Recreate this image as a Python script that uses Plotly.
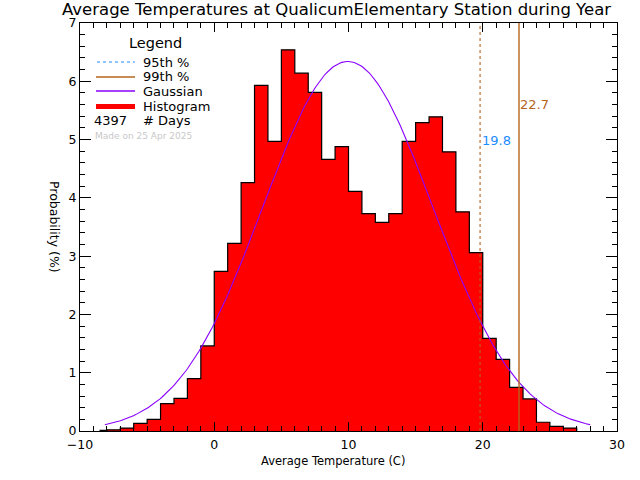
import numpy as np
import plotly.graph_objects as go

# ---- data ----
bin_edges = [-8.5, -8, -7, -6, -5, -4, -3, -2, -1, 0, 1, 2, 3, 4, 5, 6, 7, 8, 9, 10,
             11, 12, 13, 14, 15, 16, 17, 18, 19, 20, 21, 22, 23, 24, 25, 26, 27]
probability = [0.01, 0.02, 0.05, 0.13, 0.20, 0.47, 0.56, 0.90, 1.46, 2.74, 3.22, 4.26,
               5.93, 4.97, 6.54, 6.14, 5.81, 4.66, 4.88, 4.11, 3.73, 3.58, 3.73, 4.97,
               5.29, 5.39, 4.79, 3.76, 3.06, 1.59, 1.23, 0.75, 0.55, 0.15, 0.08, 0.05]
gauss_mean = 9.95
gauss_sigma = 6.33
gauss_peak = 6.34
gauss_start = -8.15
gauss_end = 28.0
p95 = 19.8
p99 = 22.7
n_days = 4397
x_ticks = [-10, 0, 10, 20, 30]
y_ticks = [0, 1, 2, 3, 4, 5, 6, 7]

RED = "#FF0000"
PURPLE = "#8A00FF"
BROWN = "#B5651D"
BLUE = "#1E8CFF"
FONT = "DejaVu Sans"

# plot area in window pixels
L, R, T, B = 80, 617, 23, 431
W, H = 640, 480


def px(x):
    return (x - L) / (R - L)


def py(y):
    return (B - y) / (B - T)


fig = go.Figure()

# histogram as a filled step outline
xs = [bin_edges[0]] + bin_edges + [bin_edges[-1]]
ys = [0] + probability + [probability[-1], 0]
fig.add_trace(go.Scatter(x=xs, y=ys, mode="lines", line=dict(shape="hv", color="black", width=1.2),
                         fill="tozeroy", fillcolor=RED, hoverinfo="skip"))

# gaussian
gx = np.linspace(gauss_start, gauss_end, 300)
gy = gauss_peak * np.exp(-((gx - gauss_mean) ** 2) / (2 * gauss_sigma ** 2))
fig.add_trace(go.Scatter(x=gx, y=gy, mode="lines", line=dict(color=PURPLE, width=1.1)))

# percentile lines
fig.add_trace(go.Scatter(x=[p95, p95], y=[0, y_ticks[-1]], mode="lines",
                         line=dict(color=BROWN, width=1.1, dash="dot")))
fig.add_trace(go.Scatter(x=[p99, p99], y=[0, y_ticks[-1]], mode="lines",
                         line=dict(color=BROWN, width=1.4)))

annotations = [
    dict(text="Average Temperatures at QualicumElementary Station during Year",
         xref="paper", yref="paper", x=px(336), y=py(10), xanchor="center", yanchor="middle",
         showarrow=False, font=dict(size=16.5, color="black", family=FONT)),
    dict(text="Average Temperature (C)", xref="paper", yref="paper", x=px(333), y=py(461),
         xanchor="center", yanchor="middle", showarrow=False,
         font=dict(size=11.5, color="black", family=FONT)),
    dict(text="Probability (%)", xref="paper", yref="paper", x=px(55), y=py(227),
         xanchor="center", yanchor="middle", showarrow=False, textangle=90,
         font=dict(size=12.5, color="black", family=FONT)),
    dict(text=f"{p95}", x=p95, y=4.98, xref="x", yref="y", xanchor="left", yanchor="middle",
         showarrow=False, xshift=0, font=dict(size=13, color=BLUE, family=FONT)),
    dict(text=f"{p99}", x=p99, y=5.6, xref="x", yref="y", xanchor="left", yanchor="middle",
         showarrow=False, xshift=-1, font=dict(size=13, color=BROWN, family=FONT)),
    # legend
    dict(text="Legend", xref="paper", yref="paper", x=px(155), y=py(43), xanchor="center",
         yanchor="middle", showarrow=False, font=dict(size=14.5, color="black", family=FONT)),
    dict(text="95th %", xref="paper", yref="paper", x=px(141), y=py(62), xanchor="left",
         yanchor="middle", showarrow=False, font=dict(size=13, color="black", family=FONT)),
    dict(text="99th %", xref="paper", yref="paper", x=px(141), y=py(77), xanchor="left",
         yanchor="middle", showarrow=False, font=dict(size=13, color="black", family=FONT)),
    dict(text="Gaussian", xref="paper", yref="paper", x=px(141), y=py(91.5), xanchor="left",
         yanchor="middle", showarrow=False, font=dict(size=13, color="black", family=FONT)),
    dict(text="Histogram", xref="paper", yref="paper", x=px(141), y=py(106), xanchor="left",
         yanchor="middle", showarrow=False, font=dict(size=13, color="black", family=FONT)),
    dict(text=f"{n_days}", xref="paper", yref="paper", x=px(92), y=py(120), xanchor="left",
         yanchor="middle", showarrow=False, font=dict(size=13, color="black", family=FONT)),
    dict(text="# Days", xref="paper", yref="paper", x=px(141), y=py(120), xanchor="left",
         yanchor="middle", showarrow=False, font=dict(size=13, color="black", family=FONT)),
    dict(text="Made on 25 Apr 2025", xref="paper", yref="paper", x=px(93), y=py(135.5),
         xanchor="left", yanchor="middle", showarrow=False,
         font=dict(size=9, color="#C8C8C8", family=FONT)),
]

shapes = [
    dict(type="line", xref="paper", yref="paper", x0=px(97), x1=px(135), y0=py(62), y1=py(62),
         line=dict(color=BLUE, width=1.2, dash="dot")),
    dict(type="line", xref="paper", yref="paper", x0=px(96), x1=px(135), y0=py(77), y1=py(77),
         line=dict(color=BROWN, width=1.5)),
    dict(type="line", xref="paper", yref="paper", x0=px(96), x1=px(135), y0=py(91), y1=py(91),
         line=dict(color=PURPLE, width=1.5)),
    dict(type="line", xref="paper", yref="paper", x0=px(96), x1=px(135), y0=py(106.5), y1=py(106.5),
         line=dict(color=RED, width=5)),
]

fig.update_layout(
    width=W, height=H,
    margin=dict(l=L, r=W - R, t=T, b=H - B, pad=0),
    paper_bgcolor="white", plot_bgcolor="white",
    showlegend=False,
    annotations=annotations, shapes=shapes,
    font=dict(family=FONT, size=12, color="black"),
    xaxis=dict(range=[-10, 30], tickvals=x_ticks, ticks="inside", ticklen=9, tickwidth=1,
               tickcolor="black", showline=True, linecolor="black", linewidth=1,
               mirror="allticks", showgrid=False, zeroline=False, automargin=False,
               tickfont=dict(size=12.5, family=FONT), ticklabelstandoff=2,
               minor=dict(dtick=1, ticks="inside", ticklen=5, tickcolor="black", showgrid=False)),
    yaxis=dict(range=[0, 7], tickvals=y_ticks, ticks="inside", ticklen=11, tickwidth=1,
               tickcolor="black", showline=True, linecolor="black", linewidth=1,
               mirror="allticks", showgrid=False, zeroline=False, automargin=False,
               tickfont=dict(size=12.5, family=FONT),
               minor=dict(dtick=0.2, ticks="inside", ticklen=5, tickcolor="black", showgrid=False)),
)

fig.write_html("out.html", config={"displayModeBar": False},
               post_script="document.body.style.margin='0';")
